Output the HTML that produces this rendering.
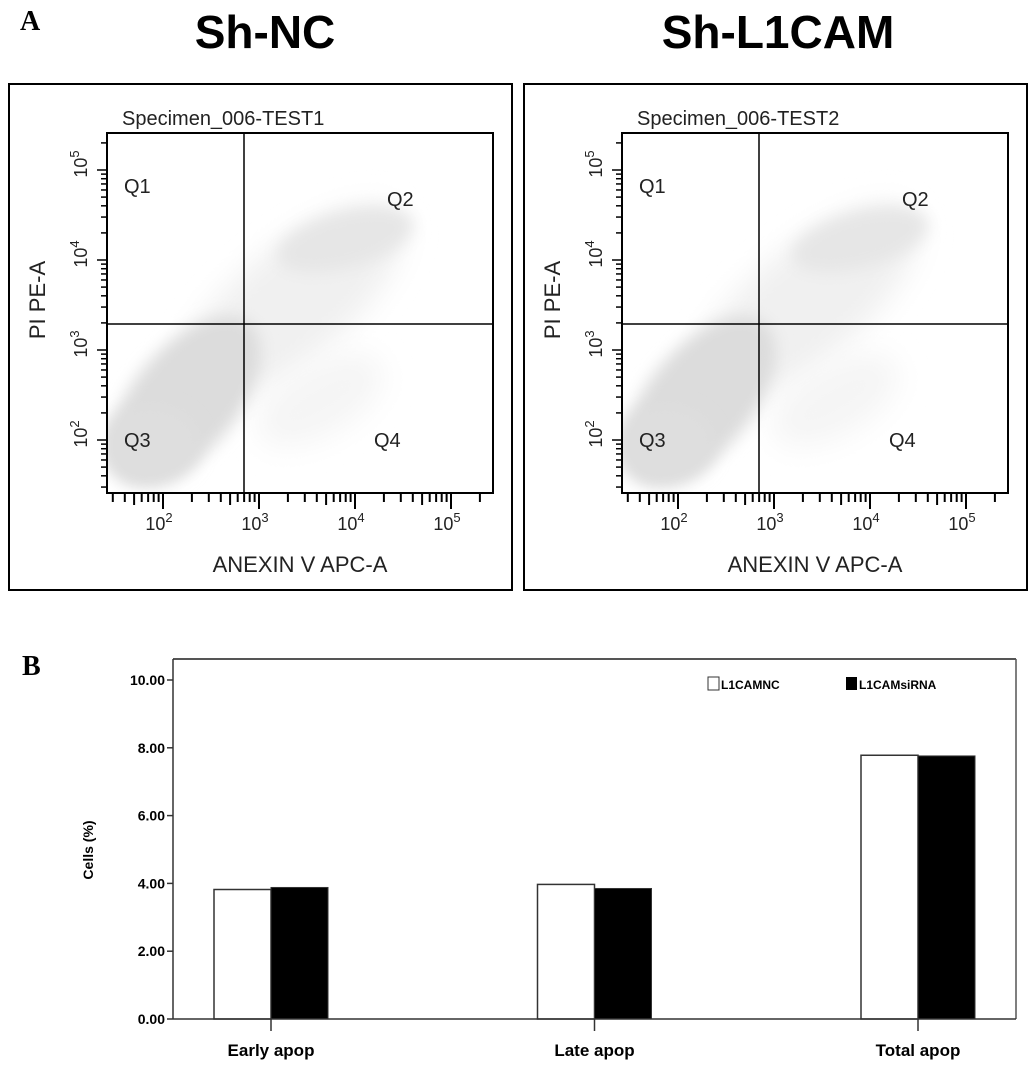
<!DOCTYPE html>
<html><head><meta charset="utf-8"><style>
html,body{margin:0;padding:0;background:#fff;}
svg{display:block;font-family:"Liberation Sans",Arial,sans-serif;}
</style></head><body>
<svg id="fig" width="1033" height="1067" viewBox="0 0 1033 1067" xmlns="http://www.w3.org/2000/svg">
<defs>
<filter id="blur8" x="-50%" y="-50%" width="200%" height="200%"><feGaussianBlur stdDeviation="8"/></filter>
<filter id="blur14" x="-50%" y="-50%" width="200%" height="200%"><feGaussianBlur stdDeviation="14"/></filter>
<clipPath id="plotclip"><rect x="107" y="133" width="386" height="360"/></clipPath>
</defs>
<text x="20" y="30" font-family="Liberation Serif,serif" font-weight="bold" font-size="28">A</text>
<text x="265" y="48" text-anchor="middle" font-weight="bold" font-size="46">Sh-NC</text>
<text x="778" y="48" text-anchor="middle" font-weight="bold" font-size="46">Sh-L1CAM</text>
<g id="flows"></g>
<text x="22" y="675" font-family="Liberation Serif,serif" font-weight="bold" font-size="28">B</text>
<g id="bars"></g>
</svg>
<script>
const NS="http://www.w3.org/2000/svg";
function el(p,t,a,txt){const e=document.createElementNS(NS,t);for(const k in a)e.setAttribute(k,a[k]);if(txt!==undefined)e.textContent=txt;p.appendChild(e);return e;}

// ---------- Flow panels ----------
const flowTitles=["Specimen_006-TEST1","Specimen_006-TEST2"];
const flowOffsets=[0,515];
const decades=[2,3,4,5];
const fg=document.getElementById('flows');
flowTitles.forEach((title,i)=>{
  const dx=flowOffsets[i];
  const g=el(fg,'g',{transform:`translate(${dx},0)`});
  
  
  const fr=el(g,'rect',{x:9,y:84,width:503,height:506,fill:'#fff',stroke:'#000','stroke-width':2});
  
  const L=107,T=133,R=493,B=493,QX=244,QY=324;
  const sc=el(g,'g',{'clip-path':'url(#plotclip)'});
  
  el(sc,'ellipse',{cx:290,cy:305,rx:140,ry:55,fill:'#f0f0f0',filter:'url(#blur14)',transform:'rotate(-40 290 305)'});
  el(sc,'ellipse',{cx:345,cy:240,rx:70,ry:28,fill:'#e6e6e6',filter:'url(#blur8)',transform:'rotate(-15 345 240)'});
  el(sc,'ellipse',{cx:185,cy:400,rx:100,ry:52,fill:'#dcdcdc',filter:'url(#blur8)',transform:'rotate(-50 185 400)'});
  el(sc,'ellipse',{cx:150,cy:445,rx:50,ry:40,fill:'#dedede',filter:'url(#blur8)'});
  el(sc,'ellipse',{cx:320,cy:400,rx:70,ry:35,fill:'#f5f5f5',filter:'url(#blur14)',transform:'rotate(-30 320 400)'});
  el(g,'rect',{x:L,y:T,width:R-L,height:B-T,fill:'none',stroke:'#000','stroke-width':2});
  const qv=el(g,'line',{x1:QX,y1:T,x2:QX,y2:B,stroke:'#000','stroke-width':1.5});
  
  const qh=el(g,'line',{x1:L,y1:QY,x2:R,y2:QY,stroke:'#000','stroke-width':1.5});
  
  const st=el(g,'text',{x:122,y:125,'font-size':20,fill:'#222'},title);
  
  [["Q1",124,193],["Q2",387,206],["Q3",124,447],["Q4",374,447]].forEach(q=>{
    const t=el(g,'text',{x:q[1],y:q[2],'font-size':20,fill:'#222'},q[0]);
    
  });
  const xd=v=>163+(v-2)*96;
  const yd=v=>440-(v-2)*90;
  for(let d=1;d<=5;d++){for(let m=1;m<10;m++){const lv=d+Math.log10(m);
    const x=xd(lv); if(x>=L+2&&x<=R-10){el(g,'line',{x1:x,y1:B,x2:x,y2:B+(m===1?16:(m===5?12:9)),stroke:'#000','stroke-width':2});}
    const y=yd(lv); if(y>=T+8&&y<=B-4){el(g,'line',{x1:L,y1:y,x2:L-(m===1?10:6),y2:y,stroke:'#000','stroke-width':1.5});}
  }}
  decades.forEach(v=>{
    const tx=el(g,'text',{x:xd(v)-4,y:530,'font-size':18,'text-anchor':'middle',fill:'#222'});
    
    tx.innerHTML='10<tspan dy="-8" font-size="13">'+v+'</tspan>';
    const ty=el(g,'text',{x:0,y:0,'font-size':18,'text-anchor':'middle',fill:'#222',transform:`translate(87,${yd(v)-6}) rotate(-90)`});
    
    ty.innerHTML='10<tspan dy="-8" font-size="13">'+v+'</tspan>';
  });
  const xl=el(g,'text',{x:300,y:572,'font-size':22,'text-anchor':'middle',fill:'#222'},'ANEXIN V APC-A');
  
  const yl=el(g,'text',{x:0,y:0,'font-size':22,'text-anchor':'middle',fill:'#222',transform:'translate(45,300) rotate(-90)'},'PI PE-A');
  
});

// ---------- Bar chart ----------
const categories=["Early apop","Late apop","Total apop"];
const ncValues=[3.82,3.97,7.78];
const siValues=[3.88,3.85,7.76];
const yTicks=[0,2,4,6,8,10];
const bg=document.getElementById('bars');
const PL=173,PR=1016,PT=659,PB=1019;
const yS=v=>PB-v*(PB-680)/10;
const xS=i=>271+i*323.5;
const bw=57;
el(bg,'line',{x1:PL,y1:PT,x2:PR,y2:PT,stroke:'#555','stroke-width':2});
el(bg,'line',{x1:PR,y1:PT,x2:PR,y2:PB,stroke:'#555','stroke-width':1.5});
el(bg,'line',{x1:PL,y1:PT,x2:PL,y2:PB,stroke:'#333','stroke-width':1.5});
yTicks.forEach(v=>{
  el(bg,'line',{x1:PL-6,y1:yS(v),x2:PL,y2:yS(v),stroke:'#333','stroke-width':1.5});
  const t=el(bg,'text',{x:PL-8,y:yS(v)+5,'font-size':14,'font-weight':'bold','text-anchor':'end'},v.toFixed(2));
  
});
categories.forEach((c,i)=>{
  const cx=xS(i);
  const r1=el(bg,'rect',{x:cx-bw,y:yS(ncValues[i]),width:bw,height:PB-yS(ncValues[i]),fill:'#fff',stroke:'#333','stroke-width':1.5});
  
  const r2=el(bg,'rect',{x:cx,y:yS(siValues[i]),width:bw,height:PB-yS(siValues[i]),fill:'#000',stroke:'#333','stroke-width':1});
  
  el(bg,'line',{x1:cx,y1:PB,x2:cx,y2:PB+12,stroke:'#333','stroke-width':1.5});
  const t=el(bg,'text',{x:cx,y:1056,'font-size':17,'font-weight':'bold','text-anchor':'middle'},c);
  
});
el(bg,'line',{x1:PL,y1:PB,x2:PR,y2:PB,stroke:'#333','stroke-width':1.5});
const yt=el(bg,'text',{x:0,y:0,'font-size':14,'font-weight':'bold','text-anchor':'middle',transform:'translate(93,850) rotate(-90)'},'Cells (%)');

const lg=el(bg,'g',{});

el(lg,'rect',{x:708,y:677,width:11,height:13,fill:'#fff',stroke:'#333','stroke-width':1});
const l1=el(lg,'text',{x:721,y:689,'font-size':12,'font-weight':'bold'},'L1CAMNC');

el(lg,'rect',{x:846,y:677,width:11,height:13,fill:'#000'});
const l2=el(lg,'text',{x:859,y:689,'font-size':12,'font-weight':'bold'},'L1CAMsiRNA');

</script>
</body></html>
